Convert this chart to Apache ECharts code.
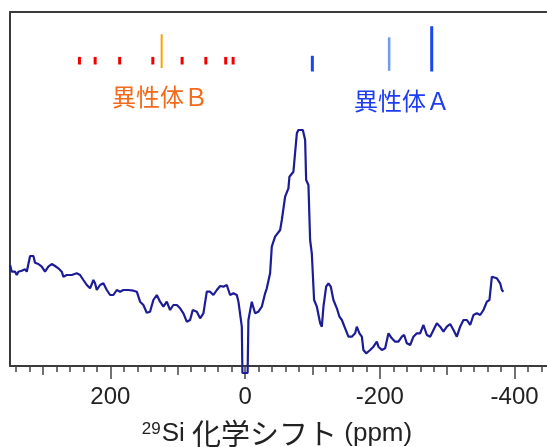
<!DOCTYPE html>
<html>
<head>
<meta charset="utf-8">
<script src="https://cdn.jsdelivr.net/npm/echarts@6/dist/echarts.min.js"></script>
<style>html,body{margin:0;padding:0;background:#fff}#c{width:547px;height:447px}</style>
</head>
<body>
<div id="c"></div>
<script>
// 29Si chemical shift (ppm) of the measured spectrum
const shiftPpm = [348.9,346.4,341.5,339.0,336.6,331.6,329.2,326.7,324.1,321.7,319.2,314.3,311.8,306.9,301.9,297.0,292.1,287.0,282.1,277.2,272.2,269.8,264.7,257.3,249.9,245.0,240.1,235.0,230.1,225.2,222.7,220.2,215.3,210.4,205.3,200.4,195.5,190.5,185.6,180.7,173.3,165.8,160.8,155.9,151.0,146.0,141.1,136.2,131.1,126.2,121.3,116.3,111.4,106.5,101.4,96.5,91.6,86.6,81.7,77.7,71.7,66.8,61.9,56.9,52.0,47.1,42.0,37.1,32.2,27.2,22.3,17.4,12.3,9.9,4.9,4.0,-3.7,-4.9,-9.9,-12.3,-14.8,-19.7,-24.8,-29.7,-32.2,-37.1,-39.6,-44.5,-52.0,-54.5,-59.4,-64.3,-65.8,-71.7,-74.2,-76.8,-79.1,-85.7,-89.1,-90.6,-94.0,-96.5,-99.0,-102.4,-106.5,-111.4,-113.9,-116.3,-120.3,-123.7,-127.2,-131.1,-136.2,-140.0,-143.6,-148.5,-153.4,-158.4,-163.3,-165.8,-169.7,-173.3,-175.6,-179.7,-185.6,-190.5,-195.5,-197.9,-203.0,-207.9,-212.8,-217.8,-222.7,-227.6,-232.7,-236.1,-240.1,-245.0,-249.9,-254.9,-259.8,-264.7,-269.8,-274.7,-279.6,-284.6,-289.5,-294.4,-299.5,-304.4,-309.3,-314.3,-319.2,-324.1,-329.2,-334.1,-339.0,-344.0,-348.9,-353.8,-358.9,-362.7,-366.3,-368.7,-373.7,-378.6,-381.1,-383.5];
// intensity (arbitrary units)
const intensity = [101,94.3,94.3,91,94.3,95.3,93.3,96.7,94.3,92.7,110,110,103.3,102,99.3,94.3,99.3,102,100,97.7,94.3,89.3,91,91,92.7,91,86,81,77.7,86,82.7,76,81,82.7,76,71,71,76,74.3,76,76,75.3,74.3,64.3,61,53.3,54.3,66,71,64.3,59.3,64.3,56,61,61,57.7,52.7,44.3,46,56,54.3,47.7,52.7,74.3,74.3,71,76,80,79.3,81,71,72.7,71,64.3,39.3,-7,-7,46,64.3,66,52.7,54.3,59.3,72.7,77.7,92.7,119.3,129.3,136,146,169.3,177.7,189.3,194.3,196,232.7,236,236,226,186,181,126,112.7,66,59.3,42.7,39.3,59.3,79.3,82.7,79.3,66,57.7,49.3,46,37.7,29.3,29.3,32.7,39.3,32.7,29.3,16,12.7,16,19.3,24.3,19.3,16,17.7,32.7,27.7,24.3,24.3,29.3,31,22.7,21,29.3,32.7,32.7,41,31,29.3,36,42.7,39.3,34.3,39.3,42,36,29.3,39.3,46,46,41,51,52.7,51,56,64.3,66,89.3,91,87.7,82.7,76,74.3];

// calculated shifts, isomer B (minor lines and main line)
const isoBMinorPpm = [245.9,222.6,186.2,137.0,93.5,58.3,28.8,17.8];
const isoBMinorLow = [301.5,301.5,301.5,301.5,301.5,301.5,301.5,301.5];
const isoBMinorHigh = [309.1,309.1,309.1,309.1,309.1,309.1,309.1,309.1];
const isoBMainPpm = [123.9];
const isoBMainLow = [298];
const isoBMainHigh = [331.8];
// isomer A
const isoAPpm = [-99.8,-277.0];
const isoALow = [294.5,294.5];
const isoAHigh = [310.2,339.8];
const isoALightPpm = [-213.8];
const isoALightLow = [295.2];
const isoALightHigh = [328.7];

const minorTicks = [], midTicks = [];
for (let v = 340; v >= -460; v -= 20) minorTicks.push(v);
for (let v = 300; v >= -400; v -= 100) midTicks.push(v);
const majorTicks = [200, 0, -200, -400];
const tickLabels = [200, 0, -200, -400];

const labelB = '異性体Ｂ';
const labelA = '異性体Ａ';

function zip3(a, b, c) { return a.map((v, i) => [v, b[i], c[i]]); }
function stick(width, color) {
  return function (params, api) {
    const x = api.value(0);
    const p1 = api.coord([x, api.value(1)]);
    const p2 = api.coord([x, api.value(2)]);
    return { type: 'rect', shape: { x: p1[0] - width / 2, y: p2[1], width: width, height: p1[1] - p2[1] }, style: { fill: color } };
  };
}

const XMIN = -460, XMAX = 349;
const frame = { show: true, onZero: false, lineStyle: { color: '#3a3a3a', width: 2 } };
const baseX = {
  type: 'value', min: XMIN, max: XMAX, inverse: true, position: 'bottom',
  axisLine: { show: false, onZero: false }, splitLine: { show: false }
};
const chart = echarts.init(document.getElementById('c'), null, { renderer: 'canvas' });
chart.setOption({
  animation: false,
  backgroundColor: '#fff',
  grid: { left: 10, top: 12, width: 545, height: 354, show: false, containLabel: false, outerBoundsMode: 'none' },
  xAxis: [
    Object.assign({}, baseX, { axisLine: frame, axisTick: { show: true, length: 6, customValues: minorTicks, lineStyle: { color: '#444', width: 1.5 } }, axisLabel: { show: false } }),
    Object.assign({}, baseX, { axisTick: { show: true, length: 9, customValues: midTicks, lineStyle: { color: '#444', width: 1.5 } }, axisLabel: { show: false } }),
    Object.assign({}, baseX, { axisTick: { show: true, length: 13, customValues: majorTicks, lineStyle: { color: '#444', width: 1.5 } },
      axisLabel: { show: true, customValues: tickLabels, margin: 19, fontSize: 24, color: '#222', fontFamily: 'Liberation Sans, Arial, sans-serif', formatter: v => String(v) } }),
    Object.assign({}, baseX, { position: 'top', axisLine: frame, axisTick: { show: false }, axisLabel: { show: false } })
  ],
  yAxis: { type: 'value', min: 0, max: 354, position: 'left', axisLine: frame, axisTick: { show: false }, axisLabel: { show: false }, splitLine: { show: false } },
  graphic: [
    { type: 'text', x: 277, y: 434, style: { text: '{s|29}{l|Si }{c|化学シフト}{l| (ppm)}', align: 'center', verticalAlign: 'middle',
      rich: { s: { fontSize: 17, fontFamily: 'Liberation Sans', fill: '#222', padding: [0,1,10,0] }, l: { fontSize: 26, fontFamily: 'Liberation Sans', fill: '#222' }, c: { fontSize: 29, fontFamily: 'Noto Sans CJK JP', fill: '#222' } } } },
    { type: 'text', x: 160, y: 97, style: { text: labelB, align: 'center', verticalAlign: 'middle', fontSize: 24, fontFamily: 'Noto Sans CJK JP', fill: '#f26b1d' } },
    { type: 'text', x: 402, y: 101, style: { text: labelA, align: 'center', verticalAlign: 'middle', fontSize: 24, fontFamily: 'Noto Sans CJK JP', fill: '#1e3cf0' } }
  ],
  series: [
    { type: 'line', data: shiftPpm.map((v, i) => [v, intensity[i]]), symbol: 'none', clip: false,
      lineStyle: { color: '#1c1c96', width: 2.2 } },
    { type: 'custom', data: zip3(isoBMinorPpm, isoBMinorLow, isoBMinorHigh), renderItem: stick(3, '#f00000') },
    { type: 'custom', data: zip3(isoBMainPpm, isoBMainLow, isoBMainHigh), renderItem: stick(2, '#f5a400') },
    { type: 'custom', data: zip3(isoAPpm, isoALow, isoAHigh), renderItem: stick(3, '#1a46f0') },
    { type: 'custom', data: zip3(isoALightPpm, isoALightLow, isoALightHigh), renderItem: stick(2.5, '#6d9af2') }
  ]
});
</script>
</body>
</html>
